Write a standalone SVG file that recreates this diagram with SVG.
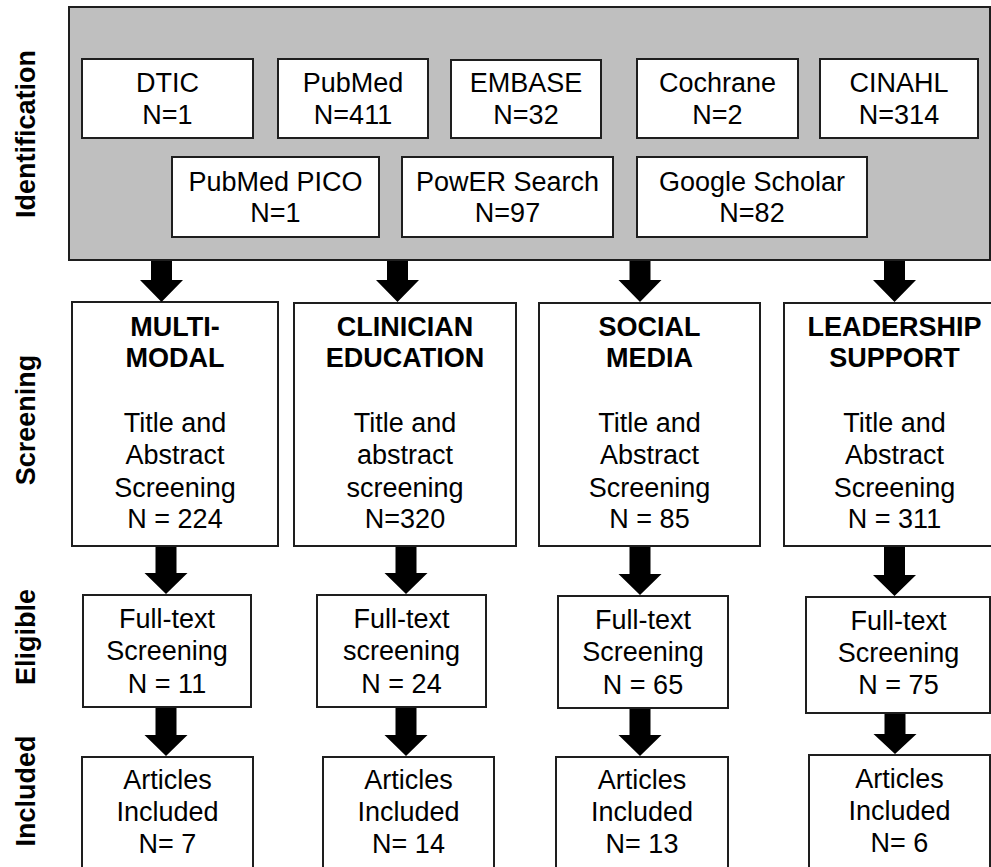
<svg xmlns="http://www.w3.org/2000/svg" width="991" height="867" viewBox="0 0 991 867">
<style>
text{font-family:"Liberation Sans",Arial,sans-serif;font-size:27px;fill:#000;text-anchor:middle}
.b{font-weight:bold}
.box{fill:#fff;stroke:#1e1e1e;stroke-width:2}
.grey{fill:#bfbfbf;stroke:#1e1e1e;stroke-width:2}
.arr{fill:#000}
</style>
<rect width="991" height="867" fill="#fff"/>
<g id="stage-labels">
<text class="b" transform="translate(35,134) rotate(-90)">Identification</text>
<text class="b" transform="translate(35,420) rotate(-90)">Screening</text>
<text class="b" transform="translate(35,637) rotate(-90)">Eligible</text>
<text class="b" transform="translate(35,791) rotate(-90)">Included</text>
</g>
<g id="identification">
<rect class="grey" x="69" y="7" width="921" height="253"/>
</g>
<g id="dtic"><rect class="box" x="82" y="59" width="171" height="79"/><text x="167.5" y="92">DTIC</text><text x="167.5" y="124">N=1</text></g>
<g id="pubmed"><rect class="box" x="278" y="59" width="150" height="79"/><text x="353" y="92">PubMed</text><text x="353" y="124">N=411</text></g>
<g id="embase"><rect class="box" x="451" y="60" width="150" height="78"/><text x="526" y="92">EMBASE</text><text x="526" y="124">N=32</text></g>
<g id="cochrane"><rect class="box" x="637" y="59" width="161" height="79"/><text x="717.5" y="92">Cochrane</text><text x="717.5" y="124">N=2</text></g>
<g id="cinahl"><rect class="box" x="820" y="59" width="158" height="79"/><text x="899" y="92">CINAHL</text><text x="899" y="124">N=314</text></g>
<g id="pubmed-pico"><rect class="box" x="172" y="157" width="207" height="80"/><text x="275.5" y="191">PubMed PICO</text><text x="275.5" y="222">N=1</text></g>
<g id="power-search"><rect class="box" x="402" y="157" width="211" height="80"/><text x="507.5" y="191">PowER Search</text><text x="507.5" y="222">N=97</text></g>
<g id="google-scholar"><rect class="box" x="637" y="157" width="230" height="80"/><text x="752" y="191">Google Scholar</text><text x="752" y="222">N=82</text></g>

<g id="screen-multimodal"><rect class="box" x="72" y="302" width="206" height="244"/>
<text class="b" x="175" y="336">MULTI-</text><text class="b" x="175" y="367">MODAL</text>
<text x="175" y="432">Title and</text><text x="175" y="464">Abstract</text><text x="175" y="497">Screening</text><text x="175" y="528">N = 224</text></g>
<g id="screen-clinician"><rect class="box" x="294" y="303" width="222" height="243"/>
<text class="b" x="405" y="336">CLINICIAN</text><text class="b" x="405" y="367">EDUCATION</text>
<text x="405" y="432">Title and</text><text x="405" y="464">abstract</text><text x="405" y="497">screening</text><text x="405" y="528">N=320</text></g>
<g id="screen-social"><rect class="box" x="539" y="303" width="221" height="243"/>
<text class="b" x="649.5" y="336">SOCIAL</text><text class="b" x="649.5" y="367">MEDIA</text>
<text x="649.5" y="432">Title and</text><text x="649.5" y="464">Abstract</text><text x="649.5" y="497">Screening</text><text x="649.5" y="528">N = 85</text></g>
<g id="screen-leadership"><rect class="box" x="784" y="303" width="221" height="243"/>
<text class="b" x="894.5" y="336">LEADERSHIP</text><text class="b" x="894.5" y="367">SUPPORT</text>
<text x="894.5" y="432">Title and</text><text x="894.5" y="464">Abstract</text><text x="894.5" y="497">Screening</text><text x="894.5" y="528">N = 311</text></g>

<g id="eligible-multimodal"><rect class="box" x="83" y="595" width="168" height="112"/>
<text x="167" y="628">Full-text</text><text x="167" y="660">Screening</text><text x="167" y="693">N = 11</text></g>
<g id="eligible-clinician"><rect class="box" x="317" y="595" width="169" height="112"/>
<text x="401.5" y="628">Full-text</text><text x="401.5" y="660">screening</text><text x="401.5" y="693">N = 24</text></g>
<g id="eligible-social"><rect class="box" x="558" y="596" width="170" height="112"/>
<text x="643" y="629">Full-text</text><text x="643" y="661">Screening</text><text x="643" y="694">N = 65</text></g>
<g id="eligible-leadership"><rect class="box" x="806" y="597" width="184" height="116"/>
<text x="898.5" y="630">Full-text</text><text x="898.5" y="662">Screening</text><text x="898.5" y="694">N = 75</text></g>

<g id="included-multimodal"><rect class="box" x="82" y="757" width="171" height="120"/>
<text x="167.5" y="789">Articles</text><text x="167.5" y="821">Included</text><text x="167.5" y="853">N= 7</text></g>
<g id="included-clinician"><rect class="box" x="323" y="757" width="171" height="120"/>
<text x="408.5" y="789">Articles</text><text x="408.5" y="821">Included</text><text x="408.5" y="853">N= 14</text></g>
<g id="included-social"><rect class="box" x="556" y="757" width="172" height="120"/>
<text x="642" y="789">Articles</text><text x="642" y="821">Included</text><text x="642" y="853">N= 13</text></g>
<g id="included-leadership"><rect class="box" x="809" y="755" width="181" height="120"/>
<text x="899.5" y="788">Articles</text><text x="899.5" y="820">Included</text><text x="899.5" y="852">N= 6</text></g>

<g id="connectors">
<polygon class="arr" points="151,261 172,261 172,280 183,280 161.5,302 140,280 151,280"/>
<polygon class="arr" points="387,261 408,261 408,280 419,280 397.5,302 376,280 387,280"/>
<polygon class="arr" points="629.5,261 650.5,261 650.5,280 661.5,280 640,302 618.5,280 629.5,280"/>
<polygon class="arr" points="884,261 905,261 905,280 916,280 894.5,302 873,280 884,280"/>

<polygon class="arr" points="155.5,547 176.5,547 176.5,573 187.5,573 166,594 144.5,573 155.5,573"/>
<polygon class="arr" points="395.5,547 416.5,547 416.5,573 427.5,573 406,594 384.5,573 395.5,573"/>
<polygon class="arr" points="629.5,547 650.5,547 650.5,574 661.5,574 640,595 618.5,574 629.5,574"/>
<polygon class="arr" points="884,547 905,547 905,575 916,575 894.5,596 873,575 884,575"/>

<polygon class="arr" points="155.5,708 176.5,708 176.5,735 187.5,735 166,756 144.5,735 155.5,735"/>
<polygon class="arr" points="395.5,708 416.5,708 416.5,735 427.5,735 406,756 384.5,735 395.5,735"/>
<polygon class="arr" points="629.5,709 650.5,709 650.5,735 661.5,735 640,756 618.5,735 629.5,735"/>
<polygon class="arr" points="884.5,714 905.5,714 905.5,734 916.5,734 895,754 873.5,734 884.5,734"/>
</g>
</svg>
